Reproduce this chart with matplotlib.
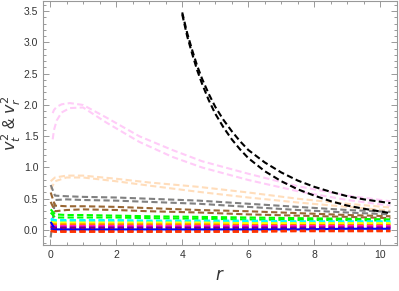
import numpy as np
import matplotlib.pyplot as plt
from matplotlib.ticker import MultipleLocator

plt.rcParams['font.family'] = ['Liberation Sans', 'DejaVu Sans']

# radial grids
r_black = [4.0, 4.15, 4.3, 4.45, 4.6, 4.8, 5.0, 5.25, 5.5, 5.75, 6.0, 6.5, 7.0,
           7.5, 8.0, 8.5, 9.0, 9.5, 10.3]
black_t = [3.48, 3.15, 2.88, 2.63, 2.42, 2.18, 1.97, 1.76, 1.58, 1.42, 1.28, 1.08,
           0.92, 0.79, 0.69, 0.61, 0.54, 0.49, 0.43]
black_r = [3.45, 3.10, 2.82, 2.56, 2.34, 2.08, 1.86, 1.64, 1.45, 1.29, 1.15, 0.94,
           0.78, 0.65, 0.55, 0.46, 0.39, 0.34, 0.27]

r_pink = [0.08, 0.12, 0.2, 0.35, 0.6, 1.0, 1.7, 2.7, 3.7, 4.6, 6.0, 7.5, 9.0, 10.3]
pink_t = [1.87, 1.92, 1.97, 2.01, 2.03, 2.00, 1.80, 1.50, 1.28, 1.10, 0.90, 0.70,
          0.55, 0.46]
pink_r = [1.45, 1.60, 1.75, 1.88, 1.95, 1.96, 1.72, 1.41, 1.17, 1.00, 0.80, 0.62,
          0.48, 0.39]

r_grid = [0.02, 0.15, 0.5, 1.0, 2.0, 3.0, 4.5, 6.0, 7.5, 9.0, 10.3]
peach_t = [0.78, 0.84, 0.87, 0.87, 0.82, 0.76, 0.69, 0.60, 0.50, 0.42, 0.36]
peach_r = [0.65, 0.78, 0.84, 0.84, 0.78, 0.71, 0.61, 0.52, 0.44, 0.37, 0.31]
gray_t = [0.72, 0.55, 0.54, 0.53, 0.52, 0.50, 0.47, 0.42, 0.37, 0.32, 0.29]
gray_r = [-0.12, 0.48, 0.49, 0.48, 0.47, 0.45, 0.42, 0.37, 0.32, 0.28, 0.25]
brown_t = [0.60, 0.39, 0.38, 0.38, 0.37, 0.35, 0.32, 0.30, 0.27, 0.24, 0.22]
brown_r = [0.45, 0.30, 0.32, 0.33, 0.32, 0.30, 0.28, 0.25, 0.23, 0.21, 0.19]
green_t = [0.33, 0.25, 0.24, 0.24, 0.23, 0.22, 0.21, 0.20, 0.19, 0.18, 0.17]
green_r = [0.28, 0.20, 0.20, 0.20, 0.20, 0.19, 0.18, 0.17, 0.16, 0.16, 0.15]
cyan_t = [0.18, 0.16, 0.16, 0.16, 0.16, 0.15, 0.15, 0.15, 0.14, 0.14, 0.14]
cyan_r = [0.15, 0.14, 0.14, 0.14, 0.14, 0.13, 0.13, 0.13, 0.12, 0.12, 0.12]
yellow_t = [0.13, 0.12, 0.12, 0.12, 0.12, 0.12, 0.12, 0.11, 0.11, 0.11, 0.11]
yellow_r = [0.11, 0.10, 0.10, 0.10, 0.10, 0.10, 0.10, 0.10, 0.10, 0.10, 0.10]
orange_t = [0.10, 0.09, 0.09, 0.09, 0.09, 0.09, 0.09, 0.08, 0.08, 0.08, 0.08]
orange_r = [0.08, 0.07, 0.07, 0.07, 0.07, 0.07, 0.07, 0.07, 0.07, 0.07, 0.07]
magenta_t = [0.07, 0.06, 0.06, 0.06, 0.06, 0.06, 0.06, 0.06, 0.06, 0.06, 0.06]
magenta_r = [0.06, 0.05, 0.05, 0.05, 0.05, 0.05, 0.05, 0.05, 0.05, 0.05, 0.05]
purple_t = [0.05, 0.04, 0.04, 0.04, 0.04, 0.04, 0.04, 0.04, 0.04, 0.04, 0.04]
purple_r = [0.04, 0.03, 0.03, 0.03, 0.03, 0.03, 0.03, 0.03, 0.03, 0.03, 0.03]
blue_t = [0.13, 0.01, 0.01, 0.01, 0.01, 0.01, 0.01, 0.01, 0.01, 0.02, 0.02]
blue_r = [0.02, 0.00, 0.00, 0.00, 0.00, 0.00, 0.00, 0.00, 0.01, 0.01, 0.01]
red_t = [-0.01, -0.02, -0.02, -0.02, -0.02, -0.02, -0.02, -0.02, -0.01, -0.01, -0.01]
red_r = [-0.02, -0.03, -0.03, -0.03, -0.03, -0.03, -0.03, -0.03, -0.02, -0.02, -0.02]

grid_curves = [
    (peach_t, peach_r, '#FFDDBB'),
    (gray_t, gray_r, '#808080'),
    (brown_t, brown_r, '#996633'),
    (green_t, green_r, '#00FF00'),
    (cyan_t, cyan_r, '#00FFFF'),
    (yellow_t, yellow_r, '#FFFF00'),
    (orange_t, orange_r, '#FF8000'),
    (magenta_t, magenta_r, '#FF00FF'),
    (purple_t, purple_r, '#800080'),
    (blue_t, blue_r, '#0000FF'),
    (red_t, red_r, '#FF3300'),
]

fig = plt.figure(figsize=(3.99, 2.91), dpi=100)
ax = fig.add_axes([0.108, 0.158, 0.887, 0.838])

ls = dict(linestyle=(0, (3, 1.6)), linewidth=1.5)

ax.plot(r_pink, pink_t, color='#FFCCF8', **ls)
ax.plot(r_pink, pink_r, color='#FFCCF8', **ls)
for vt, vr, c in grid_curves:
    ax.plot(r_grid, vt, color=c, **ls)
    ax.plot(r_grid, vr, color=c, **ls)
ax.plot(r_black, black_t, color='black', **ls)
ax.plot(r_black, black_r, color='black', **ls)

ax.set_xlim(-0.21, 10.5)
ax.set_ylim(-0.24, 3.66)
ax.xaxis.set_major_locator(MultipleLocator(2))
ax.xaxis.set_minor_locator(MultipleLocator(0.5))
ax.yaxis.set_major_locator(MultipleLocator(0.5))
ax.yaxis.set_minor_locator(MultipleLocator(0.1))
ax.yaxis.set_major_formatter(plt.FuncFormatter(lambda v, p: f'{v:.1f}'))

ax.tick_params(which='both', direction='in', top=True, right=True,
               color='#999999', labelsize=7.5, labelcolor='#333333', width=0.7)
ax.tick_params(which='major', length=4)
ax.tick_params(which='minor', length=2)
for s in ax.spines.values():
    s.set_color('#999999')
    s.set_linewidth(0.8)

ax.set_xlabel(r'$r$', fontsize=12, color='#333333', labelpad=6)
ax.set_ylabel(r'$v_t^2$ & $v_r^2$', fontsize=11.5, color='#333333')
ax.yaxis.set_label_coords(-0.058, 0.5)

plt.savefig('out.png', dpi=100)
